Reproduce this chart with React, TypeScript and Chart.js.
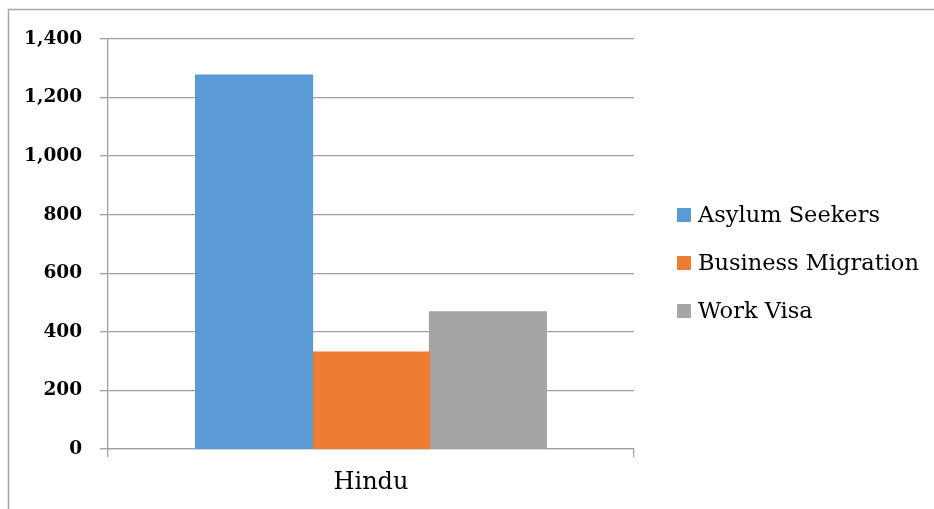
import React, { useEffect, useRef } from "react";
import { Chart, registerables } from "chart.js";

Chart.register(...registerables);

const categories = ["Hindu"];
const seriesNames = ["Asylum Seekers", "Business Migration", "Work Visa"];
const asylumSeekers = [1277];
const businessMigration = [331];
const workVisa = [468];
const seriesColors = ["#5b9bd5", "#ed7d31", "#a5a5a5"];
const yMin = 0;
const yMax = 1400;
const yStep = 200;

const FONT = "'DejaVu Serif', serif";

const frameAndLegend = {
  id: "frameAndLegend",
  beforeDraw(chart: any) {
    const ctx = chart.ctx;
    ctx.save();
    ctx.strokeStyle = "#a6a6a6";
    ctx.lineWidth = 1.5;
    ctx.beginPath();
    ctx.moveTo(8.5, 2000);
    ctx.lineTo(8.5, 9.5);
    ctx.lineTo(2000, 9.5);
    ctx.stroke();
    ctx.restore();
  },
  afterDraw(chart: any) {
    const ctx = chart.ctx;
    ctx.save();
    const boxX = 677;
    const box = 14;
    const textX = 698;
    const rowTop = 208;
    const rowGap = 48;
    ctx.font = `22.5px ${FONT}`;
    ctx.textBaseline = "alphabetic";
    ctx.textAlign = "left";
    chart.data.datasets.forEach((ds: any, i: number) => {
      const y = rowTop + i * rowGap;
      ctx.fillStyle = ds.backgroundColor;
      ctx.fillRect(boxX, y, box, box);
      ctx.fillStyle = "#000";
      ctx.fillText(ds.label, textX, y + box);
    });
    ctx.restore();
  },
};

export default function App() {
  const ref = useRef<HTMLCanvasElement | null>(null);
  useEffect(() => {
    if (!ref.current) return;
    const values = [asylumSeekers, businessMigration, workVisa];
    const chart = new Chart(ref.current, {
      type: "bar",
      data: {
        labels: categories,
        datasets: seriesNames.map((name, i) => ({
          label: name,
          data: values[i],
          backgroundColor: seriesColors[i],
          borderColor: seriesColors[i],
          borderWidth: 0,
          inflateAmount: 0.6,
          categoryPercentage: 0.667,
          barPercentage: 1.0,
        })),
      },
      options: {
        animation: false,
        responsive: false,
        maintainAspectRatio: false,
        layout: { padding: { top: 39, right: 300, left: 0, bottom: 0 } },
        plugins: {
          legend: { display: false },
          tooltip: { enabled: false },
        },
        scales: {
          x: {
            afterFit: (s: any) => {
              s.height = 60;
            },
            grid: {
              drawOnChartArea: false,
              drawTicks: true,
              tickLength: 8,
              color: "#a0a0a0",
              lineWidth: 1.3,
            },
            border: { display: true, color: "#a0a0a0", width: 1.3 },
            ticks: {
              color: "#000",
              font: { family: FONT, size: 24 },
              padding: 11,
            },
          },
          y: {
            min: yMin,
            max: yMax,
            afterFit: (s: any) => {
              s.width = 108;
            },
            grid: {
              color: "#a0a0a0",
              lineWidth: 1.3,
              tickLength: 8,
              drawTicks: true,
            },
            border: { display: true, color: "#a0a0a0", width: 1.3 },
            ticks: {
              stepSize: yStep,
              color: "#000",
              padding: 18,
              font: { family: FONT, size: 18.5, weight: "bold" },
              callback: (v: any) => Number(v).toLocaleString("en-US"),
            },
          },
        },
      },
      plugins: [frameAndLegend],
    });
    return () => chart.destroy();
  }, []);
  return (
    <div style={{ position: "fixed", left: 0, top: 0, width: 934, height: 509, background: "#fff" }}>
      <canvas ref={ref} width={934} height={509} style={{ display: "block", width: 934, height: 509 }} />
    </div>
  );
}
